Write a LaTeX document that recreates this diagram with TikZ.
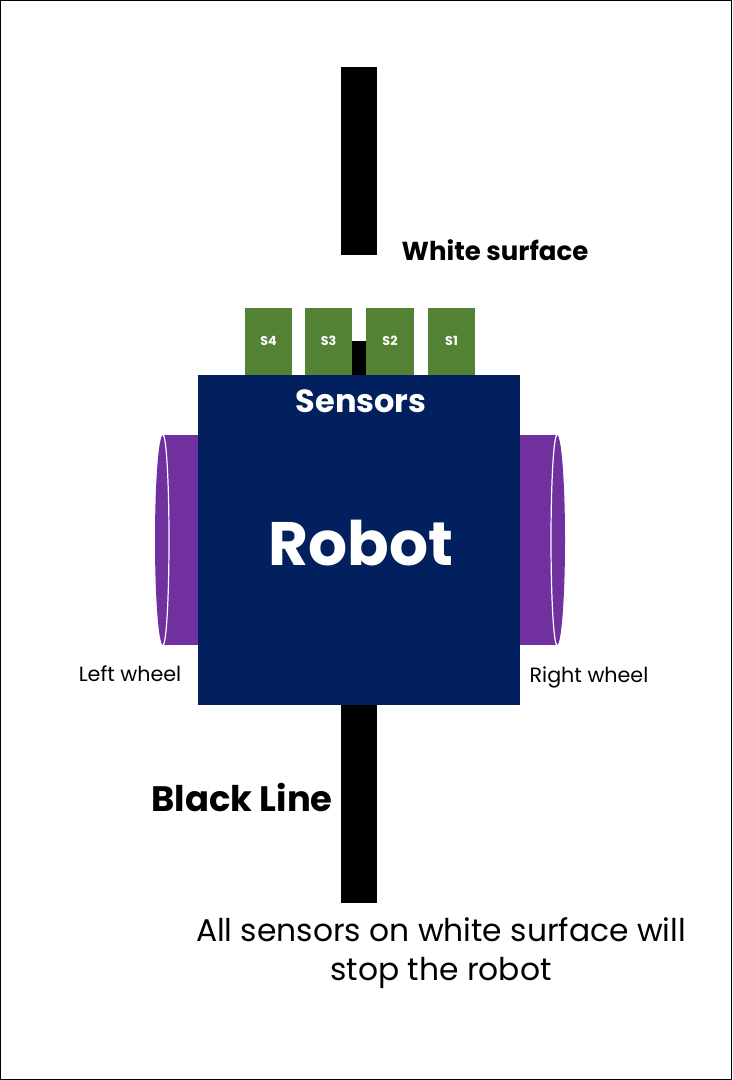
\documentclass[tikz,border=0pt]{standalone}
\usepackage{fontspec}
\setmainfont{Poppins}
\definecolor{navy}{HTML}{021F5E}
\definecolor{sgreen}{HTML}{548235}
\definecolor{wpurple}{HTML}{7030A0}
\begin{document}
\begin{tikzpicture}[x=0.75pt,y=-0.75pt,
 lbl/.style={font=\fontsize{15.5}{18}\selectfont,text=black},
 wlbl/.style={text=white,font=\bfseries}]
\useasboundingbox (0,0) rectangle (732,1080);
\draw[black,line width=0.75pt] (0.5,0.5) rectangle (731.5,1079.5);
% lines
\fill (341,67) rectangle (377,255);
\fill (341,705) rectangle (377,903);
\fill (352,341) rectangle (366,375);
% sensors
\foreach \a/\b/\t in {245/292/S4,305/352/S3,366/414/S2,428/475/S1}{
  \fill[sgreen] (\a,308) rectangle (\b,375);
  \node[wlbl,font=\bfseries\fontsize{9.5}{10}\selectfont,text=white] (\t) at ({(\a+\b)/2},341) {\t};
}
% wheels
\fill[wpurple] (163,435) rectangle (198,645);
\fill[wpurple] (163,540) ellipse [x radius=8, y radius=105];
\draw[white,line width=0.9pt] (163,435) arc[start angle=-90,end angle=90,x radius=6,y radius=105];
\fill[wpurple] (520,435) rectangle (557,645);
\fill[wpurple] (557,540) ellipse [x radius=8, y radius=105];
\draw[white,line width=0.9pt] (557,435) arc[start angle=-90,end angle=-270,x radius=6,y radius=105];
% robot
\node[fill=navy,minimum width=322*0.75pt,minimum height=330*0.75pt,inner sep=0,anchor=north west] (robot) at (198,375) {};
\node[wlbl,font=\bfseries\fontsize{24}{28}\selectfont] (sens) at (361,401) {Sensors};
\node[wlbl,font=\bfseries\fontsize{46}{50}\selectfont] (rob) at (361,543) {Robot};
% labels
\node[font=\bfseries\fontsize{19.5}{22}\selectfont] (ws) at (495,250) {White surface};
\node[font=\bfseries\fontsize{26.5}{28}\selectfont] (bl) at (242,797) {Black Line};
\node[lbl] (lw) at (130,674) {Left wheel};
\node[lbl] (rw) at (589,677) {Right wheel};
\node[font=\fontsize{23.5}{29}\selectfont,align=center] (note) at (441,953) {All sensors on white surface will\\stop the robot};
\end{tikzpicture}
\end{document}
